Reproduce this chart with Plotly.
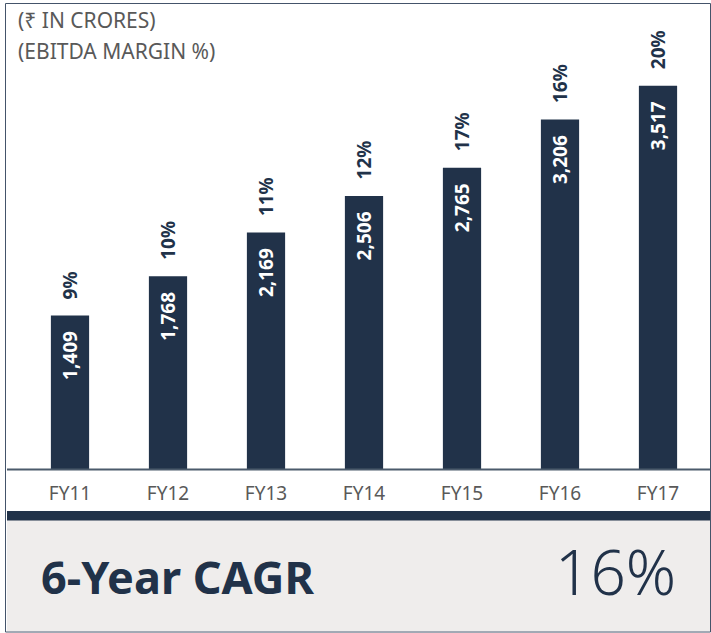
import plotly.graph_objects as go

categories = ["FY11", "FY12", "FY13", "FY14", "FY15", "FY16", "FY17"]
ebitda = [1409, 1768, 2169, 2506, 2765, 3206, 3517]
margin_pct = [9, 10, 11, 12, 17, 16, 20]
header_lines = ["(₹ IN CRORES)", "(EBITDA MARGIN %)"]
cagr_label = "6-Year CAGR"
cagr_value = "16%"

NAVY = "#213249"
GRAY_TXT = "#595959"
W, H = 711, 633
ML, MR, MT, MB = 21, 4, 20, 164
PW, PH = W - ML - MR, H - MT - MB


def px(x):
    return (x - ML) / PW


def py(y):
    return (H - MB - y) / PH


fig = go.Figure()
fig.add_trace(go.Bar(
    x=categories, y=ebitda, marker=dict(color=NAVY, line=dict(width=0)),
    hoverinfo="skip",
))

annotations = []
for c, v, m in zip(categories, ebitda, margin_pct):
    annotations.append(dict(
        x=c, y=v, xref="x", yref="y", text=f"{m}%", showarrow=False,
        textangle=-90, yanchor="bottom", xanchor="center", yshift=14,
        font=dict(family="Noto Sans", size=19, color=NAVY, weight="bold"),
    ))
    annotations.append(dict(
        x=c, y=v, xref="x", yref="y", text=f"{v:,}", showarrow=False,
        textangle=-90, yanchor="top", xanchor="center", yshift=-14,
        font=dict(family="Noto Sans", size=19, color="white", weight="bold"),
    ))

for i, t in enumerate(header_lines):
    annotations.append(dict(
        x=px(16), y=py(20 + 31 * i), xref="paper", yref="paper", text=t,
        showarrow=False, xanchor="left", yanchor="middle",
        font=dict(family="Noto Sans", size=21, color=GRAY_TXT),
    ))

annotations.append(dict(
    x=px(39), y=py(576), xref="paper", yref="paper", text=cagr_label,
    showarrow=False, xanchor="left", yanchor="middle",
    font=dict(family="Noto Sans", size=45, color=NAVY, weight="bold"),
))
annotations.append(dict(
    x=px(678), y=py(571), xref="paper", yref="paper", text=cagr_value,
    showarrow=False, xanchor="right", yanchor="middle",
    font=dict(family="Noto Sans", size=62, color=NAVY, weight=300),
))

shapes = [
    # gray box
    dict(type="rect", xref="paper", yref="paper", x0=px(7), x1=px(711),
         y0=py(631), y1=py(520), fillcolor="#EFEDEC", line=dict(width=0), layer="below"),
    # navy band
    dict(type="rect", xref="paper", yref="paper", x0=px(7), x1=px(711),
         y0=py(520.5), y1=py(511), fillcolor=NAVY, line=dict(width=0)),
    # baseline
    dict(type="line", xref="paper", yref="paper", x0=px(7), x1=px(711),
         y0=py(469.5), y1=py(469.5), line=dict(color="#4B5A6B", width=2)),
    # outer border
    dict(type="rect", xref="paper", yref="paper", x0=px(5.5), x1=px(710.5),
         y0=py(632), y1=py(3.5), line=dict(color="#44546A", width=1)),
]

fig.update_layout(
    width=W, height=H,
    margin=dict(l=ML, r=MR, t=MT, b=MB, pad=0),
    paper_bgcolor="white", plot_bgcolor="white",
    bargap=0.61, showlegend=False,
    xaxis=dict(showgrid=False, zeroline=False, showline=False, ticks="",
               tickfont=dict(family="Noto Sans", size=19, color=GRAY_TXT),
               ticklabelstandoff=11),
    yaxis=dict(range=[0, 4120], visible=False, showgrid=False, zeroline=False),
    annotations=annotations, shapes=shapes,
)

fig.write_html(
    "out.html",
    config={"displayModeBar": False},
    post_script="document.body.style.margin='0';document.body.style.overflow='hidden';",
)
